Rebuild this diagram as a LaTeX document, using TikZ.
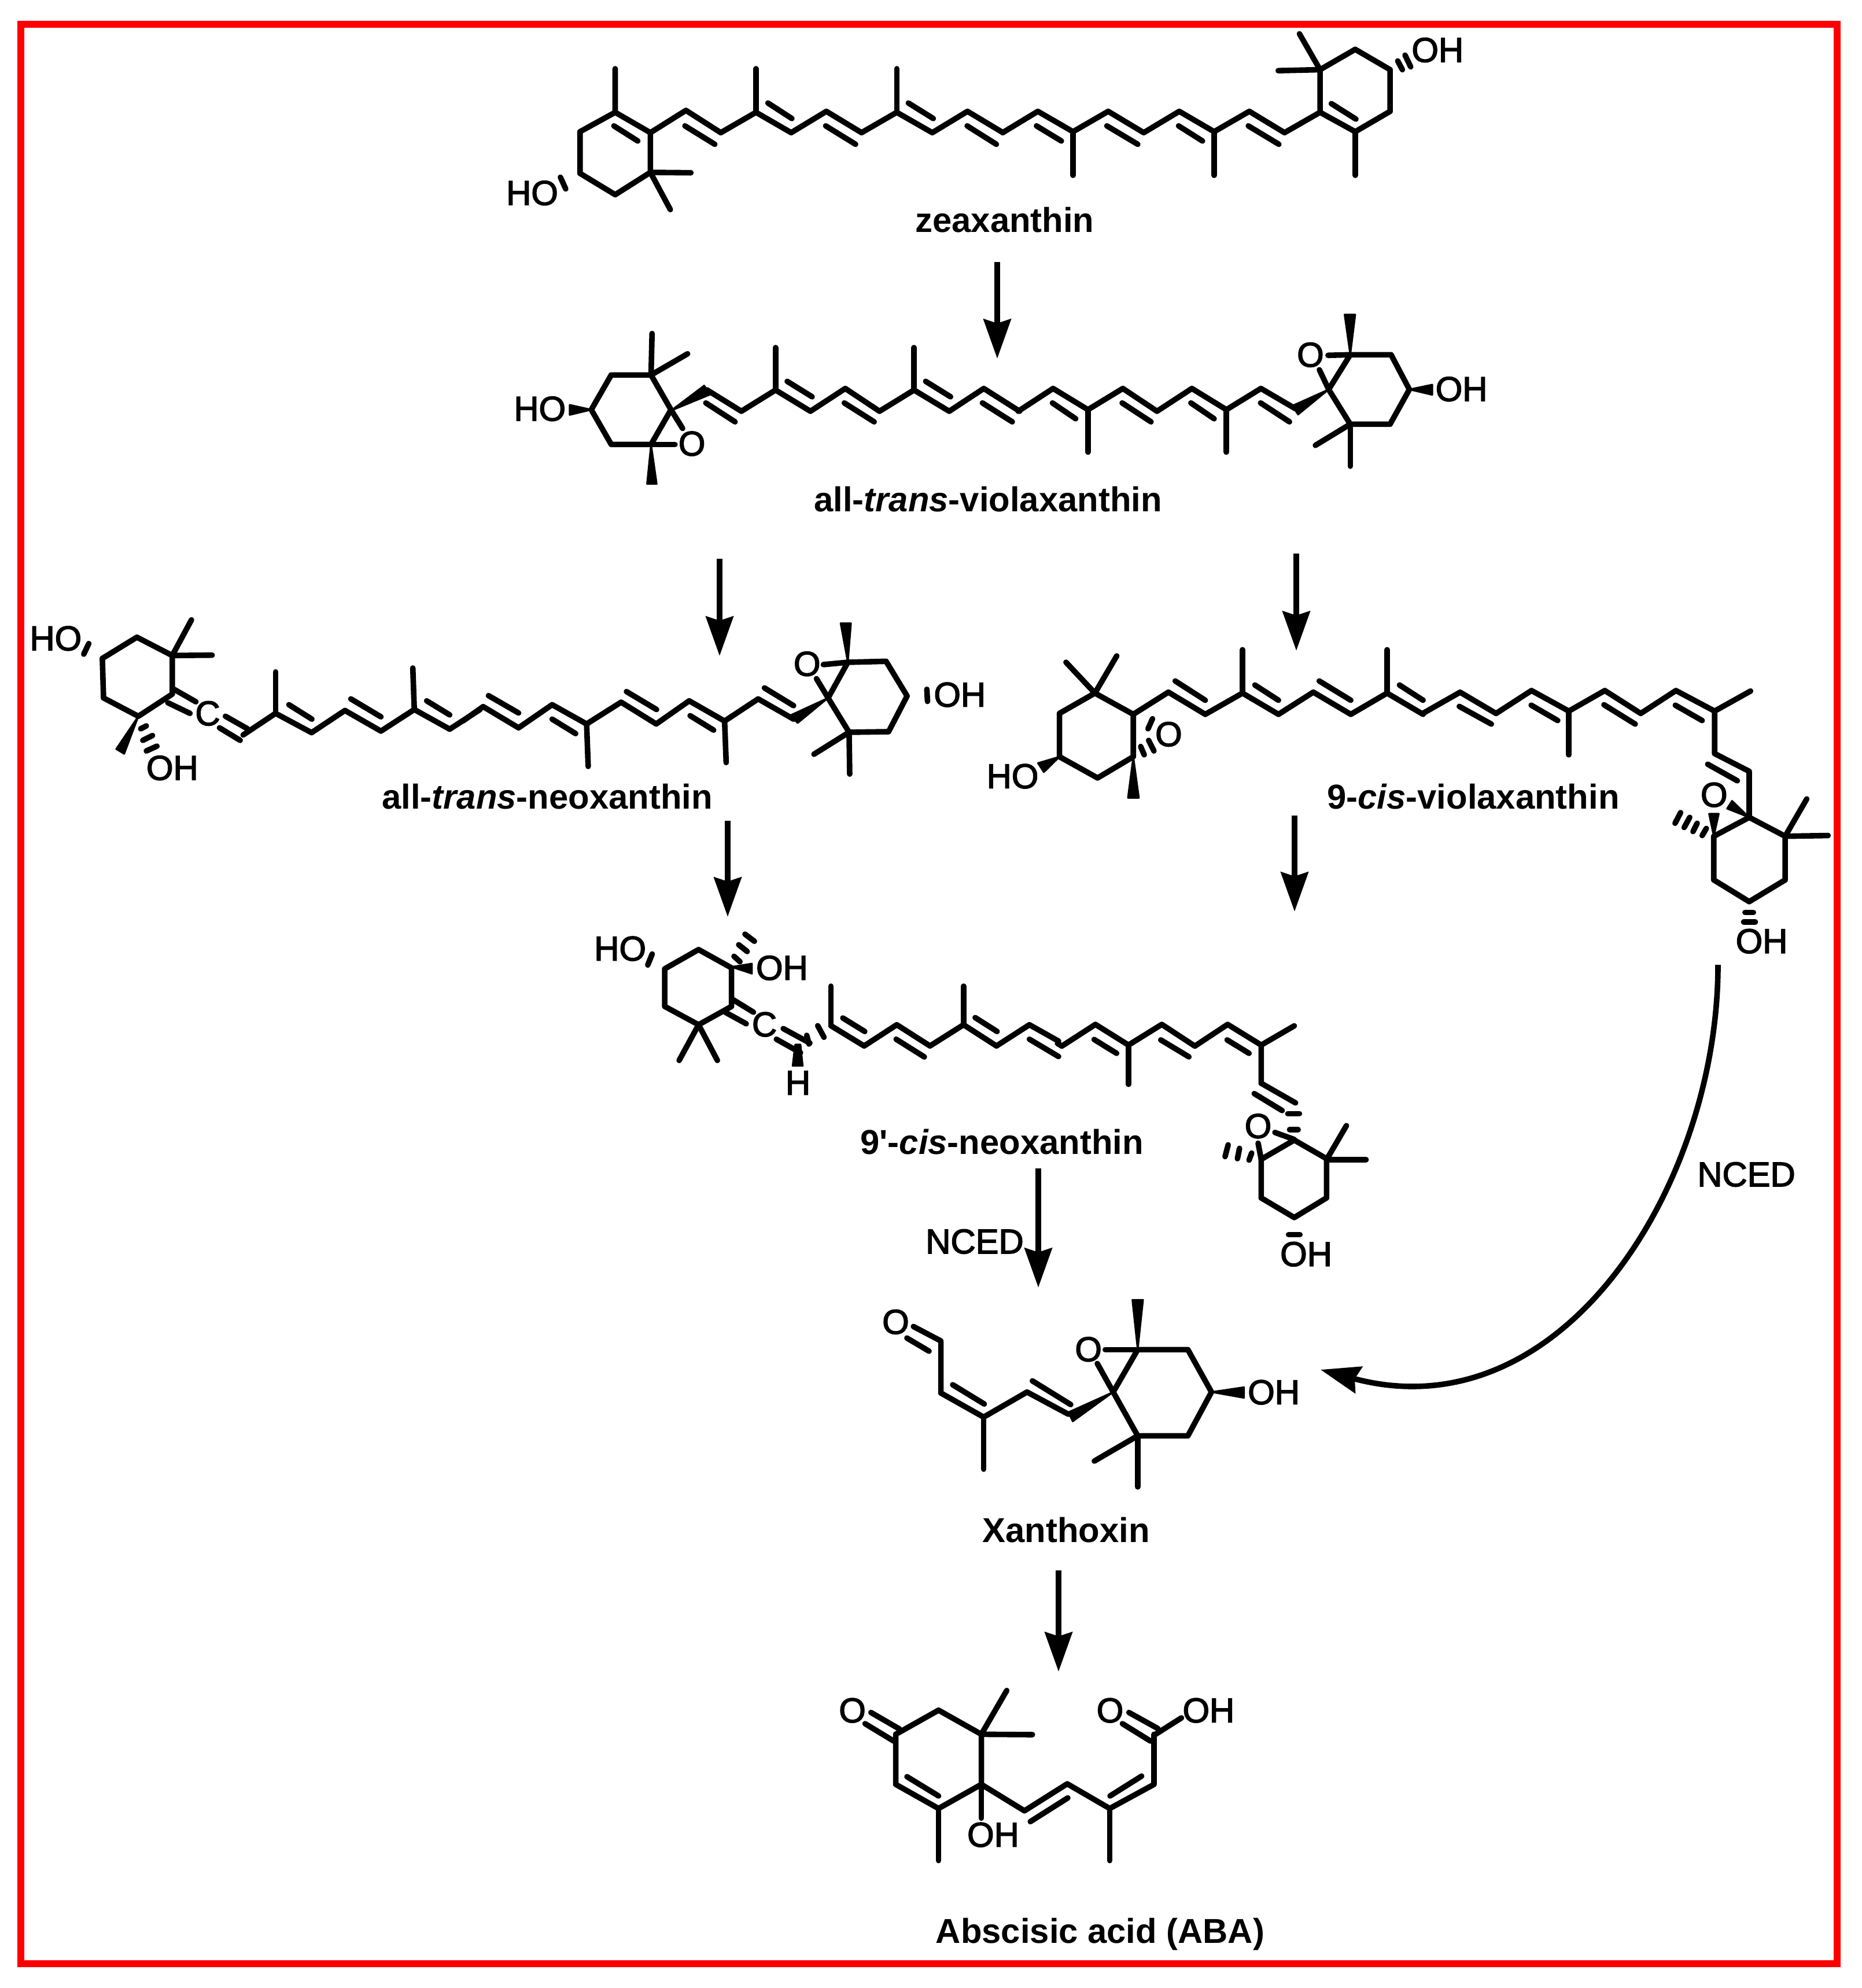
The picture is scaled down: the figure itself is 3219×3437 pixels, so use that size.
\documentclass[tikz,border=0pt]{standalone}
\usepackage{fontspec}
\setmainfont{Liberation Sans}
\newfontfamily\atomfont[FakeBold=2.5]{Liberation Sans}
\newfontfamily\primefont{Liberation Sans}
\usetikzlibrary{arrows.meta}
\begin{document}
\begin{tikzpicture}[x=0.01cm,y=-0.01cm,>={Stealth[length=0.68cm,width=0.47cm,inset=0.07cm]},
    bond/.style={line width=0.096cm,line cap=round,line join=round},
    rxn/.style={->,line width=0.096cm},
    wedge/.style={fill=black,draw=black,line width=0.03cm,line join=round},
    atom/.style={anchor=base,inner sep=0pt,font=\atomfont\fontsize{17}{20}\selectfont},
    compound/.style={anchor=base,inner sep=0pt,font=\bfseries\fontsize{17}{20}\selectfont}]

    \useasboundingbox (0,0) rectangle (3219,3437);
    \draw[red,line width=0.125cm] (36,42) rectangle (3176,3395);

    \begin{scope}[shift={(850,20)},xscale=.574,yscale=.335]
        \node[atom] (1) at (122,998) {HO};
        \draw[bond] (372,295) -- (372,520) -- (478,625) -- (478,830) -- (372,945) -- (266,835) -- (266,620) -- (372,520);
        \draw[bond] (478,625) -- (585,510) -- (690,625) -- (796,520) -- (902,625) -- (1008,515) -- (1114,625) -- (1220,520) -- (1327,625) -- (1433,515) -- (1540,625);
        \draw[bond] (796,520) -- (796,295);
        \draw[bond] (1220,520) -- (1220,295);
        \draw[bond] (368,590) -- (440,668);
        \draw[bond] (582,590) -- (672,685);
        \draw[bond] (832,472) -- (904,552);
        \draw[bond] (1006,590) -- (1096,685);
        \draw[bond] (1255,472) -- (1330,552);
        \draw[bond] (1432,590) -- (1520,685);
        \draw[bond] (478,830) -- (600,832);
        \draw[bond] (478,830) -- (538,1022);
        \draw[bond] (207,855) -- (223,915);
    \end{scope}

    \begin{scope}[shift={(1700,20)},xscale=.574,yscale=.335]
        \node[atom] (2) at (1368,260) {OH};
        \draw[bond] (58,625) -- (164,515) -- (270,620) -- (376,515) -- (483,625) -- (590,515) -- (695,620) -- (801,515) -- (907,625) -- (1014,520) -- (1120,620) -- (1225,515) -- (1225,300) -- (1120,195) -- (1014,300) -- (1014,520);
        \draw[bond] (270,620) -- (270,845);
        \draw[bond] (695,620) -- (695,845);
        \draw[bond] (1120,620) -- (1120,845);
        \draw[bond] (160,590) -- (235,668);
        \draw[bond] (372,590) -- (465,685);
        \draw[bond] (588,590) -- (660,668);
        \draw[bond] (798,590) -- (890,685);
        \draw[bond] (1048,475) -- (1122,555);
        \draw[bond] (1014,300) -- (888,305);
        \draw[bond] (1014,300) -- (952,115);
        \draw[bond] (1248,255) -- (1262,300);
        \draw[bond] (1270,225) -- (1287,285);
    \end{scope}
    \node[compound] (zeaxanthin) at (1737,402) {zeaxanthin};

    \begin{scope}[shift={(850,520)},xscale=.574,yscale=.3333]
        \node[atom] (3) at (145,622) {HO};
        \node[atom] (4) at (603,803) {O};
        \draw[bond] (300,565) -- (360,385) -- (480,385) -- (540,565) -- (480,745) -- (360,745) -- cycle;
        \draw[bond] (480,385) -- (483,170);
        \draw[bond] (480,385) -- (590,275);
        \draw[bond] (540,565) -- (575,662);
        \draw[bond] (480,745) -- (552,745);
        \fill[wedge] (480,745) -- (468,950) -- (497,950) -- cycle;
        \fill[wedge] (300,565) -- (235,540) -- (235,592) -- cycle;
        \fill[wedge] (540,570) -- (640,440) -- (657,487) -- cycle;
        \draw[bond] (648,462) -- (752,573) -- (855,463) -- (960,573) -- (1065,455) -- (1168,573) -- (1272,463) -- (1378,573) -- (1482,455) -- (1590,573);
        \draw[bond] (855,463) -- (855,243);
        \draw[bond] (1272,463) -- (1272,243);
        \draw[bond] (645,530) -- (733,628);
        \draw[bond] (890,418) -- (965,498);
        \draw[bond] (1062,530) -- (1152,628);
        \draw[bond] (1307,418) -- (1382,498);
        \draw[bond] (1478,530) -- (1568,628);
    \end{scope}

    \begin{scope}[shift={(1700,520)},xscale=.574,yscale=.3333]
        \node[atom] (5) at (1440,520) {OH};
        \node[atom] (6) at (985,342) {O};
        \draw[bond] (105,573) -- (210,455) -- (315,565) -- (420,455) -- (523,573) -- (628,455) -- (732,565) -- (836,455) -- (940,560);
        \draw[bond] (315,565) -- (315,785);
        \draw[bond] (732,565) -- (732,785);
        \draw[bond] (208,530) -- (278,612);
        \draw[bond] (418,530) -- (505,628);
        \draw[bond] (625,530) -- (695,612);
        \draw[bond] (835,530) -- (922,628);
        \fill[wedge] (1040,460) -- (930,545) -- (948,590) -- cycle;
        \draw[bond] (1040,460) -- (1105,280) -- (1228,280) -- (1283,460) -- (1225,640) -- (1105,640) -- cycle;
        \fill[wedge] (1283,460) -- (1352,435) -- (1352,488) -- cycle;
        \draw[bond] (1105,280) -- (1038,283);
        \draw[bond] (1040,460) -- (1012,358);
        \fill[wedge] (1105,280) -- (1088,72) -- (1120,72) -- cycle;
        \draw[bond] (1105,640) -- (1000,750);
        \draw[bond] (1105,640) -- (1105,858);
    \end{scope}
    \node[compound] (violaxanthin) at (1708,884) {all-\textit{trans}-violaxanthin};

    \begin{scope}[shift={(30,1030)},xscale=.5102,yscale=.3333]
        \node[atom] (7) at (130,283) {HO};
        \node[atom] (8) at (525,955) {OH};
        \node[atom] (9) at (645,672) {C};
        \draw[bond] (405,215) -- (525,310) -- (525,510) -- (410,625) -- (292,530) -- (288,325) -- cycle;
        \draw[bond] (525,310) -- (590,125);
        \draw[bond] (525,310) -- (660,308);
        \draw[bond] (525,480) -- (605,550);
        \draw[bond] (510,555) -- (585,610);
        \draw[bond] (705,625) -- (780,690);
        \draw[bond] (685,685) -- (755,750);
        \draw[bond] (765,722) -- (875,610) -- (997,710) -- (1110,595) -- (1232,702) -- (1345,590) -- (1465,692) -- (1568,590);
        \draw[bond] (875,610) -- (875,395);
        \draw[bond] (1345,590) -- (1340,375);
        \draw[bond] (920,565) -- (998,640);
        \draw[bond] (1130,535) -- (1232,628);
        \draw[bond] (1387,545) -- (1465,618);
        \fill[wedge] (410,625) -- (335,795) -- (362,820) -- cycle;
        \draw[bond] (418,690) -- (437,675);
        \draw[bond] (425,750) -- (458,725);
        \draw[bond] (437,805) -- (473,780);
        \draw[bond] (225,303) -- (242,248);
    \end{scope}

    \begin{scope}[shift={(800,1030)},xscale=.5421,yscale=.3333]
        \node[atom] (10) at (1098,415) {O};
        \node[atom] (11) at (1585,575) {OH};
        \draw[bond] (0,650) -- (65,575) -- (178,685) -- (285,565) -- (395,665) -- (505,552) -- (617,665) -- (722,545) -- (835,650) -- (942,535) -- (1055,640);
        \draw[bond] (395,665) -- (400,885);
        \draw[bond] (835,650) -- (840,865);
        \draw[bond] (82,518) -- (178,608);
        \draw[bond] (285,640) -- (360,715);
        \draw[bond] (522,497) -- (618,590);
        \draw[bond] (725,622) -- (800,697);
        \draw[bond] (962,478) -- (1055,570);
        \fill[wedge] (1165,530) -- (1045,620) -- (1068,660) -- cycle;
        \draw[bond] (1165,530) -- (1228,345) -- (1350,340) -- (1417,520) -- (1358,705) -- (1232,708) -- cycle;
        \draw[bond] (1228,345) -- (1150,357);
        \draw[bond] (1165,530) -- (1128,430);
        \fill[wedge] (1228,345) -- (1205,143) -- (1238,143) -- cycle;
        \draw[bond] (1232,708) -- (1120,822);
        \draw[bond] (1232,708) -- (1234,925);
        \draw[bond] (1480,485) -- (1482,548);
    \end{scope}
    \node[compound] (neoxanthin) at (946,1398) {all-\textit{trans}-neoxanthin};

    \begin{scope}[shift={(1700,1060)},xscale=.5102,yscale=.3333]
        \node[atom] (12) at (99,908) {HO};
        \node[atom] (13) at (628,690) {O};
        \draw[bond] (378,415) -- (508,525) -- (508,745) -- (387,855) -- (258,745) -- (258,520) -- cycle;
        \draw[bond] (378,415) -- (280,255);
        \draw[bond] (378,415) -- (452,222);
        \draw[bond] (508,525) -- (627,410) -- (752,525) -- (878,415) -- (1000,525) -- (1118,410) -- (1245,525) -- (1368,415) -- (1490,525);
        \draw[bond] (878,415) -- (878,190);
        \draw[bond] (1368,415) -- (1368,190);
        \draw[bond] (650,352) -- (752,452);
        \draw[bond] (920,373) -- (1000,452);
        \draw[bond] (1138,352) -- (1245,452);
        \draw[bond] (1410,373) -- (1490,452);
        \draw[bond] (573,548) -- (558,600);
        \draw[bond] (560,660) -- (578,715);
        \draw[bond] (533,692) -- (545,735);
        \fill[wedge] (508,745) -- (490,958) -- (527,958) -- cycle;
        \fill[wedge] (258,745) -- (185,778) -- (205,825) -- cycle;
    \end{scope}

    \begin{scope}[shift={(2450,1060)},xscale=.4783,yscale=.4082]
        \node[atom] (14) at (1073,820) {O};
        \node[atom] (15) at (1245,1440) {OH};
        \draw[bond] (20,425) -- (155,335) -- (285,425) -- (413,328) -- (548,415) -- (678,328) -- (808,425) -- (935,328) -- (1075,415) -- (1205,330);
        \draw[bond] (548,415) -- (548,600);
        \draw[bond] (152,395) -- (268,470);
        \draw[bond] (412,390) -- (508,455);
        \draw[bond] (675,388) -- (788,470);
        \draw[bond] (933,390) -- (1030,455);
        \draw[bond] (1075,415) -- (1075,595) -- (1200,670) -- (1200,865);
        \draw[bond] (1050,640) -- (1157,710);
        \draw[bond] (1200,865) -- (1330,945) -- (1330,1130) -- (1200,1222) -- (1072,1130) -- (1072,945) -- cycle;
        \draw[bond] (1330,945) -- (1408,787);
        \draw[bond] (1330,945) -- (1485,942);
        \fill[wedge] (1200,865) -- (1138,795) -- (1120,828) -- cycle;
        \fill[wedge] (1072,945) -- (1055,850) -- (1090,850) -- cycle;
        \draw[bond] (932,890) -- (952,845);
        \draw[bond] (965,908) -- (985,865);
        \draw[bond] (997,925) -- (1012,890);
        \draw[bond] (1030,942) -- (1045,912);
        \draw[bond] (1185,1268) -- (1215,1268);
        \draw[bond] (1180,1308) -- (1222,1308);
    \end{scope}
    \node[compound] (cisviolaxanthin) at (2547,1398) {9-\textit{cis}-violaxanthin};

    \begin{scope}[shift={(980,1570)},xscale=.5421,yscale=.3333]
        \node[atom] (16) at (170,272) {HO};
        \node[atom] (17) at (686,372) {OH};
        \node[atom] (18) at (630,665) {C};
        \node[atom] (19) at (737,968) {H};
        \draw[bond] (420,215) -- (525,310) -- (525,510) -- (420,605) -- (312,510) -- (312,315) -- cycle;
        \draw[bond] (420,605) -- (358,790);
        \draw[bond] (420,605) -- (480,790);
        \draw[bond] (530,475) -- (595,540);
        \draw[bond] (505,540) -- (572,600);
        \draw[bond] (690,625) -- (775,700);
        \draw[bond] (668,680) -- (745,750);
        \fill[wedge] (728,708) -- (745,708) -- (752,818) -- (720,818) -- cycle;
        \draw[bond] (765,660) -- (772,705);
        \draw[bond] (800,610) -- (820,670);
        \draw[bond] (842,610) -- (948,715) -- (1052,605) -- (1158,715) -- (1265,605) -- (1370,715) -- (1475,605) -- (1568,690);
        \draw[bond] (842,610) -- (842,405);
        \draw[bond] (1265,605) -- (1265,405);
        \draw[bond] (880,570) -- (950,640);
        \draw[bond] (1050,680) -- (1140,772);
        \draw[bond] (1302,568) -- (1372,640);
        \draw[bond] (1475,680) -- (1568,770);
        \draw[bond] (568,135) -- (598,172);
        \draw[bond] (548,190) -- (575,225);
        \draw[bond] (533,250) -- (552,278);
        \fill[wedge] (525,305) -- (590,288) -- (590,340) -- cycle;
        \draw[bond] (272,238) -- (258,295);
    \end{scope}

    \begin{scope}[shift={(1800,1680)},xscale=.4464,yscale=.3571]
        \node[atom] (20) at (840,805) {O};
        \node[atom] (21) at (1026,1425) {OH};
        \draw[bond] (63,347) -- (80,360) -- (210,255) -- (338,355) -- (467,255) -- (595,360) -- (722,255) -- (852,355) -- (980,262);
        \draw[bond] (338,355) -- (338,545);
        \draw[bond] (205,328) -- (292,395);
        \draw[bond] (463,330) -- (572,412);
        \draw[bond] (720,330) -- (805,395);
        \draw[bond] (852,355) -- (852,540) -- (985,635);
        \draw[bond] (825,590) -- (933,672);
        \draw[bond] (955,687) -- (1000,687);
        \draw[bond] (962,765) -- (995,765);
        \draw[bond] (905,778) -- (980,812);
        \draw[bond] (980,815) -- (1105,905) -- (1105,1095) -- (980,1190) -- (852,1095) -- (852,908) -- cycle;
        \draw[bond] (1105,910) -- (1182,745);
        \draw[bond] (1105,910) -- (1258,910);
        \draw[bond] (852,908) -- (840,830);
        \draw[bond] (712,895) -- (724,838);
        \draw[bond] (760,905) -- (768,855);
        \draw[bond] (805,912) -- (815,878);
        \draw[bond] (958,1273) -- (1002,1273);
    \end{scope}
    \node[compound] (cisneoxanthin) at (1732,1995) {9{\primefont\bfseries '}-\textit{cis}-neoxanthin};

    \begin{scope}[shift={(1500,2230)},xscale=.5102,yscale=.3333]
        \node[atom] (22) at (95,228) {O};
        \node[atom] (23) at (748,370) {O};
        \node[atom] (24) at (1376,593) {OH};
        \draw[bond] (155,190) -- (248,265);
        \draw[bond] (133,250) -- (208,318);
        \draw[bond] (248,270) -- (248,535) -- (393,660) -- (540,530) -- (680,645);
        \draw[bond] (288,492) -- (395,592);
        \draw[bond] (558,472) -- (688,595);
        \draw[bond] (393,660) -- (393,930);
        \fill[wedge] (832,530) -- (680,635) -- (695,682) -- cycle;
        \draw[bond] (832,530) -- (915,310) -- (1085,310) -- (1165,530) -- (1085,757) -- (915,757) -- cycle;
        \draw[bond] (915,310) -- (805,310);
        \draw[bond] (832,530) -- (778,382);
        \fill[wedge] (915,310) -- (897,52) -- (933,52) -- cycle;
        \draw[bond] (915,757) -- (768,888);
        \draw[bond] (915,757) -- (915,1022);
        \fill[wedge] (1165,530) -- (1275,505) -- (1275,560) -- cycle;
    \end{scope}
    \node[compound] (xanthoxin) at (1843,2666) {Xanthoxin};

    \begin{scope}[shift={(1420,2900)},xscale=.5102,yscale=.3333]
        \node[atom] (25) at (105,233) {O};
        \node[atom] (26) at (582,878) {OH};
        \node[atom] (27) at (978,233) {O};
        \node[atom] (28) at (1312,233) {OH};
        \draw[bond] (252,295) -- (397,170) -- (542,295) -- (542,555) -- (397,680) -- (252,555) -- cycle;
        \draw[bond] (168,182) -- (265,268);
        \draw[bond] (148,240) -- (245,330);
        \draw[bond] (542,295) -- (628,68);
        \draw[bond] (542,295) -- (715,297);
        \draw[bond] (397,680) -- (397,950);
        \draw[bond] (290,515) -- (397,615);
        \draw[bond] (542,555) -- (542,730);
        \draw[bond] (542,555) -- (688,692) -- (833,552) -- (977,680) -- (1127,555) -- (1127,295);
        \draw[bond] (708,748) -- (835,625);
        \draw[bond] (978,615) -- (1085,512);
        \draw[bond] (977,680) -- (977,950);
        \draw[bond] (1127,300) -- (1220,210);
        \draw[bond] (1042,182) -- (1140,265);
        \draw[bond] (1020,240) -- (1115,330);
    \end{scope}
    \node[compound] (aba) at (1902,3359) {Abscisic acid (ABA)};

    \node[atom] (nced1) at (1685,2167) {NCED};
    \node[atom] (nced2) at (3019,2051) {NCED};

    \coordinate (a1) at (1724,453);
    \coordinate (b1) at (1724,620);
    \coordinate (a2) at (1244,966);
    \coordinate (b2) at (1244,1134);
    \coordinate (a3) at (2241,957);
    \coordinate (b3) at (2241,1125);
    \coordinate (a4) at (1258,1419);
    \coordinate (b4) at (1258,1585);
    \coordinate (a5) at (2238,1410);
    \coordinate (b5) at (2238,1576);
    \coordinate (a6) at (1795,2020);
    \coordinate (b6) at (1795,2226);
    \coordinate (a7) at (1830,2715);
    \coordinate (b7) at (1830,2890);
    \coordinate (a8) at (2970,1668);
    \coordinate (b8) at (2283,2368);

    \draw[rxn] (a1) -- (b1);
    \draw[rxn] (a2) -- (b2);
    \draw[rxn] (a3) -- (b3);
    \draw[rxn] (a4) -- (b4);
    \draw[rxn] (a5) -- (b5);
    \draw[rxn] (a6) -- (b6);
    \draw[rxn] (a7) -- (b7);
    \draw[rxn] (a8) .. controls (2970,2050) and (2700,2480) .. (b8);
\end{tikzpicture}
\end{document}
